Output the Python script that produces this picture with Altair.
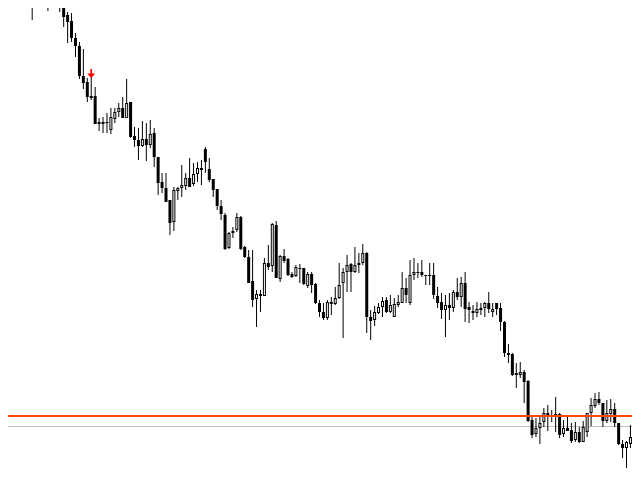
import altair as alt
import pandas as pd

# Candle values (price levels in chart units, larger = lower price)
opens = [-40, -35, -25, -18, -20, -10, 3, -5, -8, -12,
         -8, 0, 0, -2, -3, 15, 21, 38, 46, 76,
         82, 96, 96, 124, 122, 123, 130, 119, 112, 108,
         118, 102, 136, 140, 146, 139, 145, 133, 157, 182,
         188, 200, 222, 191, 188, 186, 178, 184, 174, 168,
         149, 169, 179, 189, 206, 215, 248, 233, 230, 217,
         247, 257, 281, 299, 294, 296, 263, 266, 225, 279,
         256, 259, 274, 276, 269, 268, 286, 274, 284, 303,
         312, 318, 302, 304, 298, 283, 272, 264, 272, 265,
         263, 253, 317, 320, 313, 307, 300, 312, 317, 305,
         303, 288, 303, 275, 273, 272, 275, 275, 275, 296,
         302, 310, 305, 308, 292, 297, 283, 307, 311, 313,
         308, 308, 303, 312, 303, 308, 322, 353, 354, 373,
         375, 372, 381, 420, 434, 428, 422, 413, 416, 417,
         414, 434, 428, 430, 440, 432, 442, 432, 413, 406,
         399, 403, 421, 414, 409, 423, 444, 448, 444, 440]
highs = [-45, -40, -30, -28, -26, -16, -10, -14, -18, -20,
         -15, -5, -3, -8, -6, 12, 13, 33, 42, 49,
         78, 75, 87, 118, 117, 113, 108, 108, 103, 97,
         79, 102, 127, 128, 121, 123, 120, 128, 157, 173,
         173, 200, 187, 187, 165, 173, 158, 163, 162, 160,
         147, 158, 179, 189, 200, 213, 232, 227, 213, 216,
         246, 250, 250, 290, 290, 258, 245, 223, 221, 255,
         249, 258, 272, 265, 264, 268, 272, 272, 283, 300,
         303, 300, 297, 287, 263, 268, 255, 263, 247, 253,
         244, 252, 310, 306, 303, 297, 297, 295, 298, 295,
         272, 278, 260, 258, 263, 260, 275, 263, 263, 287,
         293, 295, 293, 290, 278, 277, 272, 302, 305, 302,
         303, 302, 292, 303, 303, 303, 321, 344, 353, 363,
         362, 370, 380, 416, 418, 417, 408, 405, 410, 397,
         413, 420, 416, 423, 422, 427, 421, 413, 398, 393,
         392, 403, 400, 399, 403, 423, 440, 441, 425, 425]
lows = [-30, 2, -12, -8, -6, 4, 20, -2, -3, -4,
        11, 3, 1, 12, 27, 43, 42, 57, 79, 89,
        102, 100, 124, 131, 133, 133, 134, 123, 117, 118,
        118, 138, 147, 160, 147, 161, 148, 167, 195, 193,
        202, 235, 231, 200, 197, 190, 187, 186, 182, 185,
        173, 182, 197, 210, 220, 250, 249, 238, 232, 250,
        258, 283, 307, 327, 312, 296, 270, 272, 278, 282,
        263, 276, 278, 277, 283, 285, 288, 293, 304, 317,
        320, 320, 315, 305, 299, 338, 292, 292, 273, 273,
        265, 333, 340, 326, 314, 317, 313, 313, 317, 307,
        303, 303, 305, 280, 278, 277, 285, 285, 299, 308,
        319, 337, 320, 312, 300, 307, 322, 323, 320, 317,
        315, 317, 313, 317, 315, 331, 357, 363, 376, 388,
        378, 403, 422, 438, 437, 444, 427, 431, 422, 432,
        438, 437, 431, 443, 442, 443, 442, 437, 426, 408,
        405, 427, 423, 422, 427, 445, 458, 468, 448, 445]
closes = [-35, -25, -18, -20, -12, 4, -5, -8, -12, -6,
          2, 2, 1, -4, 17, 22, 38, 46, 76, 83,
          97, 98, 124, 122, 124, 122, 117, 112, 108, 118,
          103, 137, 140, 146, 139, 145, 134, 157, 183, 188,
          202, 223, 190, 188, 185, 178, 187, 174, 168, 170,
          162, 180, 190, 206, 214, 249, 233, 231, 217, 249,
          257, 283, 300, 294, 296, 263, 267, 224, 278, 256,
          261, 275, 277, 267, 268, 284, 274, 285, 303, 312,
          318, 302, 304, 298, 285, 272, 265, 272, 265, 263,
          253, 317, 321, 312, 307, 301, 312, 305, 304, 302,
          288, 295, 275, 272, 272, 275, 276, 276, 295, 303,
          310, 305, 308, 292, 297, 283, 309, 310, 313, 309,
          310, 303, 309, 309, 309, 322, 353, 355, 375, 375,
          372, 382, 421, 435, 428, 423, 413, 417, 417, 414,
          435, 428, 431, 441, 432, 442, 427, 413, 405, 399,
          403, 421, 413, 409, 423, 444, 448, 442, 437, 437]

signal_bar = [21]
signal_level = [73.5]
orange_level = [416]
gray_level = [426.5]

bars = list(range(len(opens)))
df = pd.DataFrame({"bar": bars, "open": opens, "high": highs,
                   "low": lows, "close": closes})

xs = alt.Scale(domain=[1.125, 157.125], nice=False, zero=False)
ys = alt.Scale(domain=[8, 472], reverse=True, nice=False, zero=False)
X = alt.X("bar:Q", scale=xs, axis=None)

base = alt.Chart(df)

wicks = base.mark_rule(color="black", strokeWidth=1, clip=True).encode(
    x=X, y=alt.Y("high:Q", scale=ys, axis=None), y2="low:Q")

bodies = base.transform_calculate(
    top="min(datum.open, datum.close)",
    bottom="max(datum.open, datum.close)",
).mark_bar(size=3, color="black", clip=True).encode(
    x=X, y=alt.Y("top:Q", scale=ys, axis=None), y2="bottom:Q")

inner = base.transform_filter("datum.open - datum.close > 2").transform_calculate(
    itop="datum.close + 1", ibot="datum.open - 1"
).mark_bar(size=1, color="white", clip=True).encode(
    x=X, y=alt.Y("itop:Q", scale=ys, axis=None), y2="ibot:Q")

orange = alt.Chart(pd.DataFrame({"level": orange_level})).mark_rule(
    color="#FF4500", strokeWidth=2).encode(y=alt.Y("level:Q", scale=ys, axis=None))
gray = alt.Chart(pd.DataFrame({"level": gray_level})).mark_rule(
    color="#C0C0C0", strokeWidth=1).encode(y=alt.Y("level:Q", scale=ys, axis=None))

arrow_path = "M-0.2,-1L0.2,-1L0.2,0L0.9,0L0,1L-0.9,0L-0.2,0Z"
arrow = alt.Chart(pd.DataFrame({"bar": signal_bar, "level": signal_level})).mark_point(
    shape=arrow_path, filled=True, color="#FF0000", size=81, opacity=1, strokeWidth=0
).encode(x=X, y=alt.Y("level:Q", scale=ys, axis=None))

chart = alt.layer(gray, wicks, bodies, inner, orange, arrow).properties(
    width=624, height=464, padding=0, autosize=alt.AutoSizeParams(type="none"),
    background="white"
).configure_view(strokeWidth=0)

chart.save("out.html", embed_options={"renderer": "svg", "actions": False})
